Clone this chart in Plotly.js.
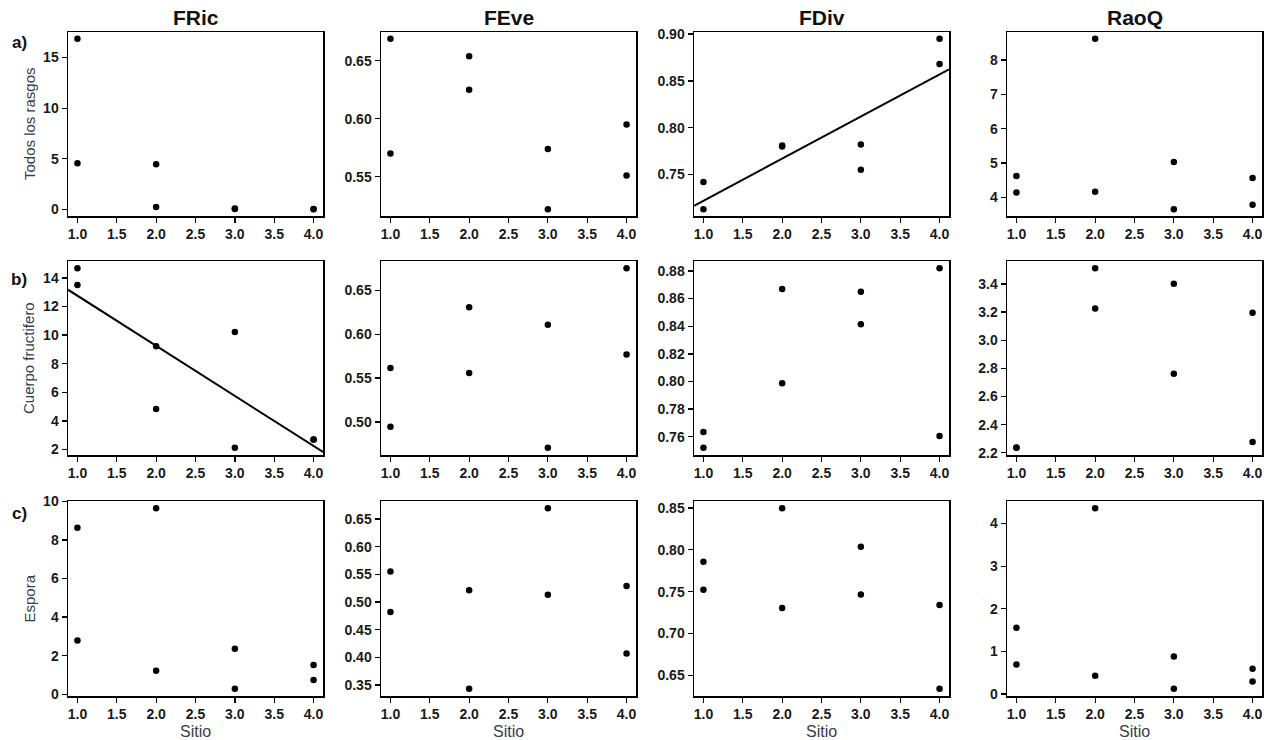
<!DOCTYPE html>
<html>
<head>
<meta charset="utf-8">
<script src="https://cdn.plot.ly/plotly-3.0.1.min.js"></script>
<style>html,body{margin:0;padding:0;background:#fff;}#chart{width:1274px;height:740px;}</style>
</head>
<body>
<div id="chart"></div>
<script>
// ---- data ----
const sitio = [1, 1, 2, 2, 3, 3, 4, 4];
const indices = ["FRic", "FEve", "FDiv", "RaoQ"];
const rowLetters = ["a)", "b)", "c)"];
const rowNames = ["Todos los rasgos", "Cuerpo fructifero", "Espora"];
const xTicks = [1.0, 1.5, 2.0, 2.5, 3.0, 3.5, 4.0];

// a) Todos los rasgos
const a_FRic = [16.85, 4.55, 4.45, 0.23, 0.05, 0.08, 0.02, 0.05];
const a_FEve = [0.669, 0.570, 0.654, 0.625, 0.574, 0.522, 0.595, 0.551];
const a_FDiv = [0.742, 0.713, 0.781, 0.780, 0.782, 0.755, 0.895, 0.868];
const a_RaoQ = [4.62, 4.14, 8.62, 4.16, 5.03, 3.65, 4.56, 3.78];
// b) Cuerpo fructifero
const b_FRic = [14.68, 13.51, 9.22, 4.84, 10.22, 2.12, 2.71, 2.70];
const b_FEve = [0.5615, 0.4945, 0.631, 0.556, 0.611, 0.4705, 0.6755, 0.577];
const b_FDiv = [0.7634, 0.752, 0.867, 0.7987, 0.865, 0.8415, 0.882, 0.7605];
const b_RaoQ = [2.237, 2.235, 3.512, 3.225, 3.402, 2.762, 3.195, 2.277];
// c) Espora
const c_FRic = [8.64, 2.79, 9.65, 1.22, 2.36, 0.28, 1.52, 0.73];
const c_FEve = [0.5553, 0.4819, 0.5212, 0.3434, 0.6695, 0.5134, 0.5292, 0.4072];
const c_FDiv = [0.7857, 0.7524, 0.8496, 0.7305, 0.8037, 0.7467, 0.7341, 0.6341];
const c_RaoQ = [1.554, 0.694, 4.36, 0.429, 0.881, 0.124, 0.593, 0.295];

const panelValues = [
  [a_FRic, a_FEve, a_FDiv, a_RaoQ],
  [b_FRic, b_FEve, b_FDiv, b_RaoQ],
  [c_FRic, c_FEve, c_FDiv, c_RaoQ]
];
// panels with a significant linear fit
const fitted = [[0, 2], [1, 0]];

// ---- styling / layout ----
const W = 1274, H = 740;
const colLeft = [68, 381, 694, 1007], colWidth = 255;
const rowTop = [32, 261, 501], rowBottom = [216, 455, 696];
const yDtick = [[5, 0.05, 0.05, 1], [2, 0.05, 0.02, 0.2], [2, 0.05, 0.05, 1]];
const yFmt = [["d", ".2f", ".2f", "d"], ["d", ".2f", ".2f", ".1f"], ["d", ".2f", ".2f", "d"]];
const xRange = [0.88, 4.12];
const FAM = "Liberation Sans, Arial, sans-serif";
const tickFont = {family: FAM, size: 14, color: "#1a1a1a", weight: "bold"};
const labelColor = "#35404e";

const traces = [];
const layout = {
  width: W, height: H,
  margin: {l: 0, r: 0, t: 0, b: 0},
  paper_bgcolor: "#fff", plot_bgcolor: "#fff",
  showlegend: false,
  annotations: []
};

function olsFit(x, y) {
  const n = x.length;
  const mx = x.reduce((s, v) => s + v, 0) / n;
  const my = y.reduce((s, v) => s + v, 0) / n;
  let sxy = 0, sxx = 0;
  for (let i = 0; i < n; i++) { sxy += (x[i] - mx) * (y[i] - my); sxx += (x[i] - mx) ** 2; }
  const b = sxy / sxx;
  return {a: my - b * mx, b: b};
}

for (let r = 0; r < 3; r++) {
  for (let c = 0; c < 4; c++) {
    const k = r * 4 + c + 1;
    const xa = k === 1 ? "x" : "x" + k, ya = k === 1 ? "y" : "y" + k;
    const xkey = k === 1 ? "xaxis" : "xaxis" + k, ykey = k === 1 ? "yaxis" : "yaxis" + k;
    const vals = panelValues[r][c];
    const mn = Math.min(...vals), mx = Math.max(...vals), ext = (mx - mn) * 0.04;
    traces.push({
      type: "scatter", mode: "markers", x: sitio, y: vals, xaxis: xa, yaxis: ya,
      marker: {color: "#000", size: 6.5, line: {width: 0}}, hoverinfo: "x+y"
    });
    if (fitted.some(f => f[0] === r && f[1] === c)) {
      const fit = olsFit(sitio, vals);
      traces.push({
        type: "scatter", mode: "lines", x: xRange, y: xRange.map(v => fit.a + fit.b * v),
        xaxis: xa, yaxis: ya, line: {color: "#000", width: 2}, hoverinfo: "skip"
      });
    }
    layout[xkey] = {
      domain: [colLeft[c] / W, (colLeft[c] + colWidth) / W],
      anchor: ya, range: xRange, tickmode: "array", tickvals: xTicks,
      ticktext: xTicks.map(v => v.toFixed(1)),
      showgrid: false, zeroline: false, showline: true, mirror: true,
      linecolor: "#000", linewidth: 1.5, ticks: "outside", ticklen: 5, tickwidth: 1.3,
      tickcolor: "#000", tickfont: tickFont, fixedrange: true
    };
    layout[ykey] = {
      domain: [1 - rowBottom[r] / H, 1 - rowTop[r] / H],
      anchor: xa, range: [mn - ext, mx + ext], dtick: yDtick[r][c], tick0: 0,
      tickformat: yFmt[r][c],
      showgrid: false, zeroline: false, showline: true, mirror: true,
      linecolor: "#000", linewidth: 1.5, ticks: "outside", ticklen: 5, tickwidth: 1.3,
      tickcolor: "#000", tickfont: tickFont, fixedrange: true
    };
  }
}

// column titles
indices.forEach((t, c) => {
  layout.annotations.push({
    text: t, xref: "paper", yref: "paper",
    x: (colLeft[c] + colWidth / 2) / W, y: 1 - 18 / H,
    xanchor: "center", yanchor: "middle", showarrow: false,
    font: {family: FAM, size: 21, color: "#111", weight: "bold"}
  });
  layout.annotations.push({
    text: "Sitio", xref: "paper", yref: "paper",
    x: (colLeft[c] + colWidth / 2) / W, y: 1 - 731 / H,
    xanchor: "center", yanchor: "middle", showarrow: false,
    font: {family: FAM, size: 16, color: labelColor}
  });
});
// row letters and y titles
const letterY = [43, 279, 513];
rowLetters.forEach((t, r) => {
  layout.annotations.push({
    text: t, xref: "paper", yref: "paper", x: 19 / W, y: 1 - letterY[r] / H,
    xanchor: "center", yanchor: "middle", showarrow: false,
    font: {family: FAM, size: 17, color: "#111", weight: "bold"}
  });
  layout.annotations.push({
    text: rowNames[r], xref: "paper", yref: "paper", x: 29 / W,
    y: 1 - ((rowTop[r] + rowBottom[r]) / 2) / H,
    xanchor: "center", yanchor: "middle", showarrow: false, textangle: -90,
    font: {family: FAM, size: 15, color: labelColor}
  });
});

Plotly.newPlot("chart", traces, layout, {displayModeBar: false, staticPlot: true});
</script>
</body>
</html>
